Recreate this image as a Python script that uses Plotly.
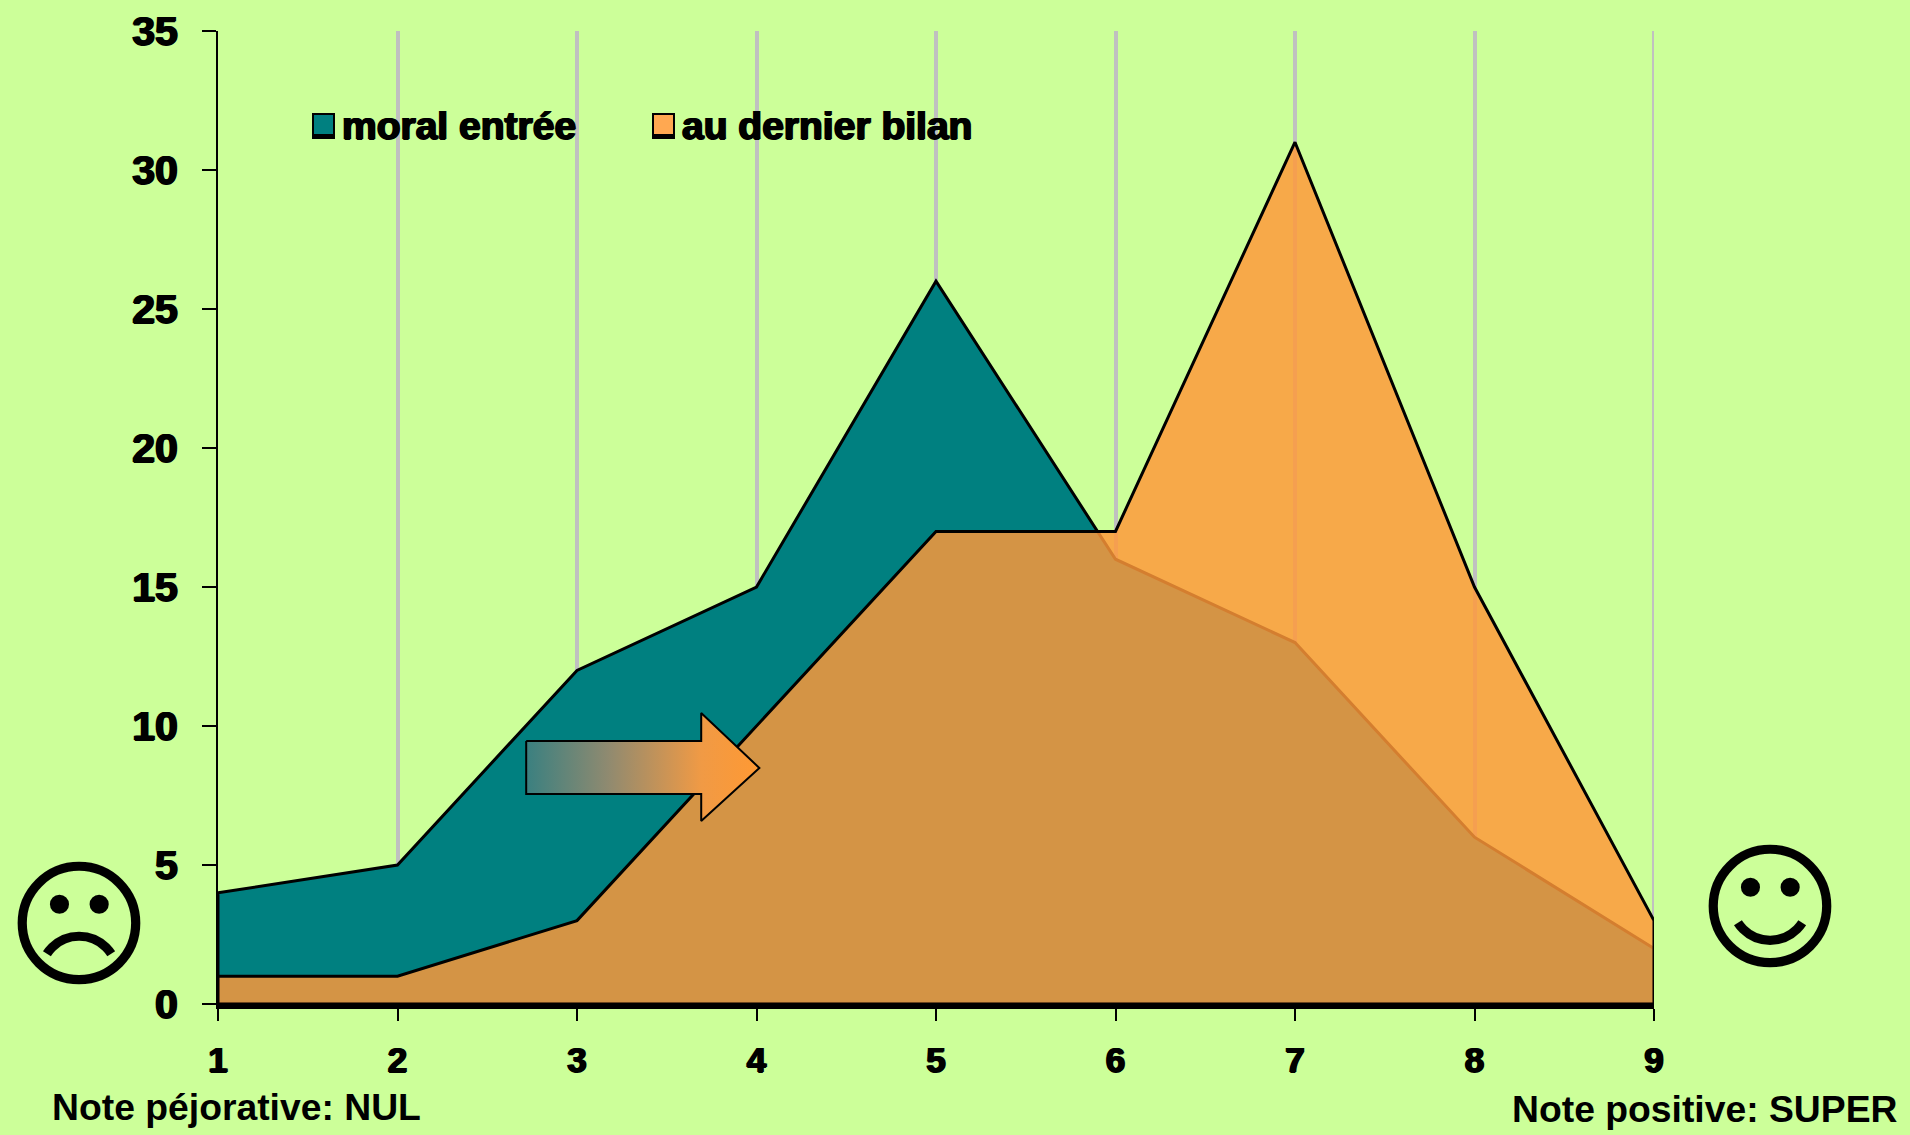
import plotly.graph_objects as go

# Survey scores from 1 to 9 and how many people gave each one
notes = [1, 2, 3, 4, 5, 6, 7, 8, 9]
moral_entree = [4, 5, 12, 15, 26, 16, 13, 6, 2]
dernier_bilan = [1, 1, 3, 10, 17, 17, 31, 15, 3]
y_ticks = [0, 5, 10, 15, 20, 25, 30, 35]

# Arrow outline in axis units
arrow_x = [2.717, 3.692, 3.692, 4.016, 3.692, 3.692, 2.717, 2.717]
arrow_y = [9.46, 9.46, 10.47, 8.49, 6.58, 7.55, 7.55, 9.46]

WIDTH, HEIGHT = 1910, 1135
LEFT, RIGHT, TOP, BOTTOM = 218, 256, 31, 131
BG = "#CCFF99"
TEAL = "#008080"
ORANGE_SOLID = "#FFA851"
ORANGE_FILL = "rgba(255,152,56,0.83)"
GRID = "#C0C0C0"
FONT = "Liberation Sans"
INK = "#000000"
HEAVY = "1px 0 0 #000, -1px 0 0 #000, 0 1px 0 #000"


def px(x):
    """Page pixel to paper x, where paper spans the plot area."""
    return (x - LEFT) / (WIDTH - LEFT - RIGHT)


def py(y):
    """Page pixel to paper y, where paper spans the plot area."""
    return 1 - (y - TOP) / (HEIGHT - TOP - BOTTOM)


def closed(xs, ys):
    """Close an area down to the baseline so its outline runs round the whole shape."""
    return xs + [xs[-1], xs[0], xs[0]], ys + [0, 0, ys[0]]


fig = go.Figure()

x_teal, y_teal = closed(notes, moral_entree)
fig.add_trace(go.Scatter(x=x_teal, y=y_teal, mode="lines", fill="toself",
                         fillcolor=TEAL, line=dict(color=INK, width=3),
                         name="moral entrée", hoverinfo="skip", cliponaxis=False))

x_orange, y_orange = closed(notes, dernier_bilan)
fig.add_trace(go.Scatter(x=x_orange, y=y_orange, mode="lines", fill="toself",
                         fillcolor=ORANGE_FILL, line=dict(color=INK, width=3),
                         name="au dernier bilan", hoverinfo="skip", cliponaxis=False))

# Arrow showing the shift between the two distributions
fig.add_trace(go.Scatter(
    x=arrow_x, y=arrow_y, mode="lines", fill="toself",
    line=dict(color=INK, width=2), hoverinfo="skip",
    fillgradient=dict(type="horizontal",
                      colorscale=[[0, "#3A8080"], [0.35, "#8F8A70"],
                                  [0.75, "#F09A45"], [1, "#FF9933"]]),
))

# The gridline on the last score is dropped by the axis, so it is drawn here
shapes = [dict(type="line", layer="below", xref="x", yref="y",
               x0=notes[-1], x1=notes[-1], y0=y_ticks[0], y1=y_ticks[-1],
               line=dict(color=GRID, width=4))]
annotations = []


def legend_entry(x0, colour, label):
    # Swatch with a heavier lower edge, followed by its label
    shapes.append(dict(type="rect", xref="paper", yref="paper",
                       x0=px(x0), x1=px(x0 + 23), y0=py(139), y1=py(113),
                       fillcolor=INK, line=dict(width=0)))
    shapes.append(dict(type="rect", xref="paper", yref="paper",
                       x0=px(x0 + 2), x1=px(x0 + 21), y0=py(134), y1=py(115),
                       fillcolor=colour, line=dict(width=0)))
    annotations.append(dict(xref="paper", yref="paper", x=px(x0 + 28), y=py(126),
                            xanchor="left", yanchor="middle", showarrow=False,
                            text=label,
                            font=dict(family=FONT, size=39, color=INK, weight=700,
                                      shadow=HEAVY)))


legend_entry(312, TEAL, "moral entrée")
legend_entry(652, ORANGE_SOLID, "au dernier bilan")

# Faces at each end of the scale
annotations.append(dict(xref="paper", yref="paper", x=px(79), y=py(925),
                        xanchor="center", yanchor="middle", showarrow=False,
                        text="☹", font=dict(family="DejaVu Sans", size=140, color=INK)))
annotations.append(dict(xref="paper", yref="paper", x=px(1770), y=py(908),
                        xanchor="center", yanchor="middle", showarrow=False,
                        text="☺", font=dict(family="DejaVu Sans", size=140, color=INK)))

# Captions under the axis
annotations.append(dict(xref="paper", yref="paper", x=px(50), y=py(1107),
                        xanchor="left", yanchor="middle", showarrow=False,
                        text="Note péjorative: NUL",
                        font=dict(family=FONT, size=37.3, color=INK, weight=700)))
annotations.append(dict(xref="paper", yref="paper", x=px(1510), y=py(1109),
                        xanchor="left", yanchor="middle", showarrow=False,
                        text="Note positive: SUPER",
                        font=dict(family=FONT, size=37.3, color=INK, weight=700)))

fig.update_layout(
    width=WIDTH, height=HEIGHT,
    margin=dict(l=LEFT, r=RIGHT, t=TOP, b=BOTTOM, autoexpand=False),
    paper_bgcolor=BG, plot_bgcolor=BG,
    showlegend=False,
    shapes=shapes, annotations=annotations,
    xaxis=dict(range=[1, 9], tickmode="array", tickvals=notes,
               showgrid=True, gridcolor=GRID, gridwidth=4, zeroline=False,
               showline=True, linecolor=INK, linewidth=5,
               ticks="outside", ticklen=12, tickwidth=2, tickcolor=INK,
               ticklabelstandoff=9,
               tickfont=dict(family=FONT, size=35, color=INK, weight=700, shadow=HEAVY)),
    yaxis=dict(range=[0, 35], tickmode="array", tickvals=y_ticks,
               showgrid=False, zeroline=False,
               showline=True, linecolor=INK, linewidth=2,
               ticks="outside", ticklen=14, tickwidth=2, tickcolor=INK,
               ticklabelstandoff=16,
               tickfont=dict(family=FONT, size=41, color=INK, weight=700, shadow=HEAVY)),
)

fig.write_html("out.html")
